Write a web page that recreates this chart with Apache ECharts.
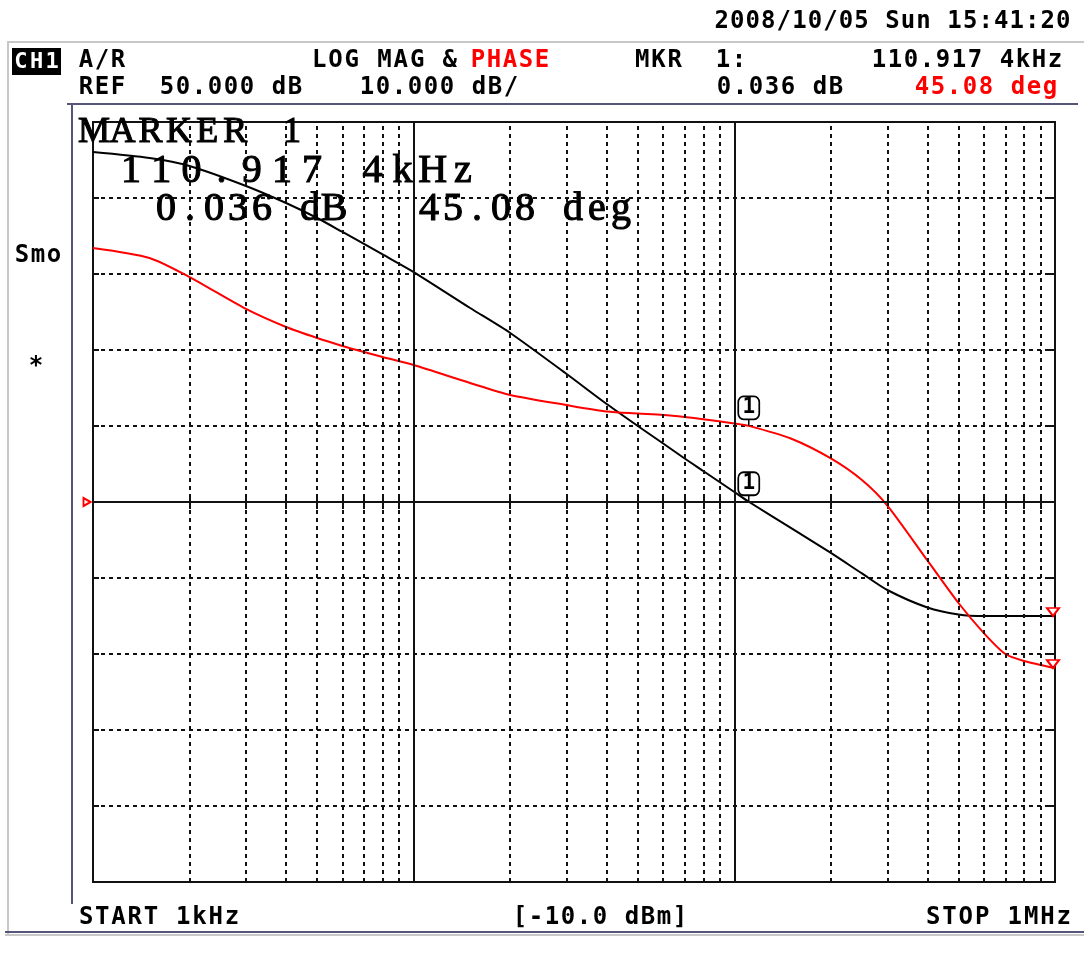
<!DOCTYPE html>
<html>
<head>
<meta charset="utf-8">
<title>A/R LOG MAG &amp; PHASE</title>
<script src="https://cdn.jsdelivr.net/npm/echarts@6/dist/echarts.min.js"></script>
<style>
html, body { margin: 0; padding: 0; background: #fff; }
#chart { width: 1084px; height: 965px; }
</style>
</head>
<body>
<div id="chart"></div>
<script>
// sweep points (Hz)
var freqs = [1000, 1500, 2000, 3000, 4000, 5000, 6000, 7000, 8000, 10000,
    15000, 20000, 30000, 40000, 50000, 60000, 70000, 80000, 100000, 110917.4,
    150000, 200000, 250000, 300000, 400000, 500000, 600000, 700000, 800000, 1000000];
// log magnitude (dB)
var magDb = [46.05, 45.26, 44.21, 41.58, 39.34, 37.37, 35.53, 33.95, 32.57, 30.26,
    25.53, 22.24, 16.84, 12.89, 10.0, 7.70, 5.72, 4.08, 1.32, 0.036,
    -3.4, -6.7, -9.4, -11.58, -13.88, -14.8, -15.0, -15.0, -15.0, -15.0];
// phase (deg)
var phaseDeg = [150.4, 144.5, 133.2, 114.3, 103.6, 97.1, 92.4, 88.8, 85.9, 81.1,
    70.5, 63.4, 57.4, 53.6, 52.4, 51.5, 50.3, 49.0, 46.5, 45.08,
    37.6, 25.8, 13.0, -2.1, -34.6, -59.8, -77.6, -90.0, -94.1, -98.3];

// marker 1
var markerFreq = 110917.4;
var markerMag = 0.036;
var markerPhase = 45.08;

// grid frequencies: solid decade lines and dotted lines between them
var decadeFreqs = [10000, 100000];
var minorFreqs = [2000, 3000, 4000, 5000, 6000, 7000, 8000, 9000,
    20000, 30000, 40000, 50000, 60000, 70000, 80000, 90000,
    200000, 300000, 400000, 500000, 600000, 700000, 800000, 900000];
var gridFreqs = [1000, 10000, 100000, 1000000].concat(minorFreqs);

var INK = '#111';
var RED = '#ff0000';
var FRAME = '#55557a';
var LIGHT = '#c8c8c8';

// lay a string out one glyph per cell between x0 and x1 (instrument fonts are fixed pitch)
function spaced(str, x0, x1, y, style) {
    var step = (x1 - x0) / str.length;
    var out = [];
    for (var i = 0; i < str.length; i++) {
        if (str[i] === ' ') continue;
        out.push({
            type: 'text', z: 50,
            x: x0 + step * (i + 0.5), y: y,
            style: Object.assign({ text: str[i], align: 'center', verticalAlign: 'middle' }, style)
        });
    }
    return out;
}

var hdr = { fill: '#000', fontFamily: 'DejaVu Sans Mono', fontWeight: 'bold', fontSize: 24 };
var hdrRed = Object.assign({}, hdr, { fill: RED });
var serif1 = { fill: '#000', stroke: '#000', lineWidth: 1.1, fontFamily: 'Liberation Serif', fontSize: 36 };
var serif2 = { fill: '#000', stroke: '#000', lineWidth: 1.1, fontFamily: 'Liberation Serif', fontSize: 40 };

var graphics = [
    { type: 'line', z: 40, shape: { x1: 7, y1: 42, x2: 1084, y2: 42 }, style: { stroke: LIGHT, lineWidth: 2 } },
    { type: 'line', z: 40, shape: { x1: 8, y1: 42, x2: 8, y2: 934 }, style: { stroke: LIGHT, lineWidth: 2 } },
    { type: 'line', z: 40, shape: { x1: 67, y1: 104, x2: 1078, y2: 104 }, style: { stroke: FRAME, lineWidth: 2 } },
    { type: 'line', z: 40, shape: { x1: 72, y1: 104, x2: 72, y2: 904 }, style: { stroke: FRAME, lineWidth: 2 } },
    { type: 'line', z: 40, shape: { x1: 5, y1: 932, x2: 1084, y2: 932 }, style: { stroke: FRAME, lineWidth: 2 } },
    { type: 'line', z: 40, shape: { x1: 5, y1: 935, x2: 1084, y2: 935 }, style: { stroke: LIGHT, lineWidth: 2 } },
    { type: 'rect', z: 40, shape: { x: 12, y: 48, width: 49, height: 27 }, style: { fill: '#000' } }
];
graphics = graphics
    .concat(spaced('CH1', 13, 60, 62, Object.assign({}, hdr, { fill: '#fff', fontSize: 22 })))
    .concat(spaced('2008/10/05 Sun 15:41:20', 714, 1071, 22, hdr))
    .concat(spaced('A/R', 78, 126, 61, hdr))
    .concat(spaced('LOG MAG &', 311, 458, 61, hdr))
    .concat(spaced('PHASE', 470, 550, 61, hdrRed))
    .concat(spaced('MKR', 634, 683, 61, hdr))
    .concat(spaced('1:', 715, 747, 61, hdr))
    .concat(spaced('110.917 4kHz', 871, 1063, 61, hdr))
    .concat(spaced('REF', 78, 126, 88, hdr))
    .concat(spaced('50.000 dB', 159, 303, 88, hdr))
    .concat(spaced('10.000 dB/', 359, 519, 88, hdr))
    .concat(spaced('0.036 dB', 716, 844, 88, hdr))
    .concat(spaced('45.08 deg', 914, 1058, 88, hdrRed))
    .concat(spaced('Smo', 14, 62, 256, hdr))
    .concat(spaced('*', 28, 44, 367, hdr))
    .concat(spaced('START 1kHz', 78, 240, 918, hdr))
    .concat(spaced('[-10.0 dBm]', 512, 688, 918, hdr))
    .concat(spaced('STOP 1MHz', 925, 1072, 918, hdr))
    .concat(spaced('MARKER 1', 80, 306, 133, serif1))
    .concat(spaced('110.917 4kHz', 116, 478, 171, serif2))
    .concat(spaced('0.036 dB', 154, 346, 209, serif2))
    .concat(spaced('45.08 deg', 417, 633, 209, serif2));

function markerBox(coord) {
    return [
        { coord: coord, symbol: 'rect', symbolSize: [1.5, 8], symbolOffset: [0, -4],
          itemStyle: { color: '#000' }, label: { show: false } },
        { coord: coord, symbol: 'roundRect', symbolSize: [21, 23], symbolOffset: [0, -18],
          itemStyle: { color: '#fff', borderColor: '#000', borderWidth: 1.8 },
          label: { show: true, position: 'inside', formatter: '1', color: '#000',
                   fontSize: 21, fontWeight: 'bold', fontFamily: 'DejaVu Sans Mono' } }
    ];
}

function endMark(coord) {
    return { coord: coord, symbol: 'triangle', symbolRotate: 180, symbolSize: [12, 8], symbolOffset: [-2, -4],
             itemStyle: { color: '#fff', borderColor: RED, borderWidth: 2 }, label: { show: false } };
}

var dotted = { color: INK, width: 2, type: [4, 4] };
var solid = { color: INK, width: 2, type: 'solid' };

var xAxisBase = {
    type: 'log', logBase: 10, min: 1000, max: 1000000,
    axisLine: { show: false },
    axisLabel: { show: false },
    axisTick: { show: true, inside: true, length: 7, customValues: gridFreqs,
                lineStyle: { color: INK, width: 2 } },
    splitLine: { show: false }
};

var chart = echarts.init(document.getElementById('chart'));
var option = {
    animation: false,
    backgroundColor: '#fff',
    grid: { left: 93, top: 122, width: 962, height: 760, show: true,
            borderColor: INK, borderWidth: 2, backgroundColor: 'transparent' },
    xAxis: [
        Object.assign({}, xAxisBase, { position: 'bottom' }),
        Object.assign({}, xAxisBase, { position: 'top' })
    ],
    yAxis: [
        { type: 'value', min: -50, max: 50, interval: 10, position: 'left',
          axisLine: { show: false }, axisLabel: { show: false },
          axisTick: { show: true, inside: true, length: 6, lineStyle: { color: INK, width: 2 } },
          splitLine: { show: true, lineStyle: dotted } },
        { type: 'value', min: -225, max: 225, interval: 45, position: 'right',
          axisLine: { show: false }, axisLabel: { show: false },
          axisTick: { show: true, inside: true, length: 6, lineStyle: { color: INK, width: 2 } },
          splitLine: { show: false } }
    ],
    series: [
        {
            name: 'LOG MAG', type: 'line', xAxisIndex: 0, yAxisIndex: 0, z: 2,
            data: freqs.map(function (f, i) { return [f, magDb[i]]; }),
            showSymbol: false, smooth: 0.25,
            lineStyle: { color: '#000', width: 2 },
            markLine: {
                silent: true, symbol: 'none', label: { show: false }, animation: false,
                lineStyle: dotted,
                data: minorFreqs.map(function (f) { return { xAxis: f, lineStyle: dotted }; })
                    .concat(decadeFreqs.map(function (f) { return { xAxis: f, lineStyle: solid }; }))
                    .concat([{ yAxis: 0, lineStyle: solid }])
            },
            markPoint: {
                silent: true, animation: false,
                data: markerBox([markerFreq, markerMag]).concat([
                    endMark([freqs[freqs.length - 1], magDb[magDb.length - 1]]),
                    { coord: [1000, 0], symbol: 'triangle', symbolRotate: -90, symbolSize: [8, 7], symbolOffset: [-6, 0],
                      itemStyle: { color: '#fff', borderColor: RED, borderWidth: 2 }, label: { show: false } }
                ])
            }
        },
        {
            name: 'PHASE', type: 'line', xAxisIndex: 0, yAxisIndex: 1, z: 3,
            data: freqs.map(function (f, i) { return [f, phaseDeg[i]]; }),
            showSymbol: false, smooth: 0.25,
            lineStyle: { color: RED, width: 2 },
            markPoint: {
                silent: true, animation: false,
                data: markerBox([markerFreq, markerPhase]).concat([
                    endMark([freqs[freqs.length - 1], phaseDeg[phaseDeg.length - 1]])
                ])
            }
        }
    ],
    graphic: graphics
};
chart.setOption(option);
</script>
</body>
</html>
